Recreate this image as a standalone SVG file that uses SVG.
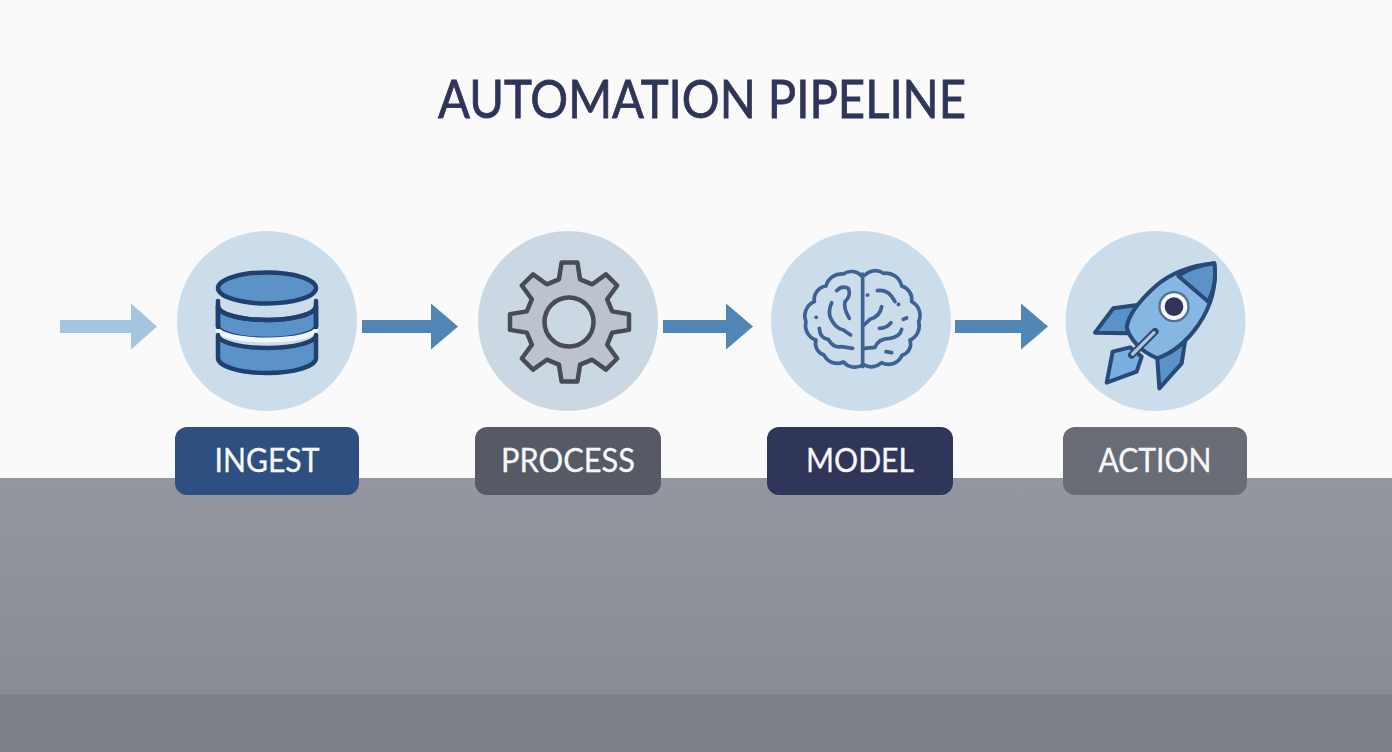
<svg xmlns="http://www.w3.org/2000/svg" width="1392" height="752" viewBox="0 0 1392 752">
<style>
.t{font-family:Lato,"Liberation Sans",sans-serif;font-weight:400;fill:#f7f8fa;stroke:#f7f8fa;stroke-width:.3;font-size:33px;text-anchor:middle}
.h{font-family:Lato,"Liberation Sans",sans-serif;font-weight:400;fill:#2f3558;stroke:#2f3558;stroke-width:.8;font-size:52px;text-anchor:middle}
.c{stroke-width:13;fill:none}
.l{fill:none;stroke:#3f6294;stroke-width:11;stroke-linecap:round;stroke-linejoin:round}
.db{fill:#5b93c8;stroke:#20406f;stroke-width:4.500;stroke-linejoin:round}
.rz{stroke:#274a78;stroke-width:12;stroke-linejoin:round}
</style>
<defs>
<linearGradient id="band" x1="0" y1="0" x2="0" y2="1"><stop offset="0" stop-color="#94979f"/><stop offset="1" stop-color="#898c95"/></linearGradient>
<marker id="hl" markerUnits="userSpaceOnUse" markerWidth="27" markerHeight="48" refX="0" refY="24" orient="auto"><path d="M0 1L26 24L0 47Z" fill="#a3c5df"/></marker>
<marker id="hd" markerUnits="userSpaceOnUse" markerWidth="27" markerHeight="48" refX="0" refY="24" orient="auto"><path d="M0 1L27 24L0 47Z" fill="#4f86b5"/></marker>
</defs>
<rect width="1392" height="752" fill="#fafafa"/>
<rect y="478" width="1392" height="216" fill="url(#band)"/>
<rect y="694" width="1392" height="58" fill="#7d8087"/>
<text id="title" class="h" x="702" y="118" textLength="528" lengthAdjust="spacingAndGlyphs">AUTOMATION PIPELINE</text>
<g id="connectors">
<line class="c" x1="60" y1="326.500" x2="131" y2="326.500" stroke="#a3c5df" marker-end="url(#hl)"/>
<line class="c" x1="362" y1="326.500" x2="431" y2="326.500" stroke="#4f86b5" marker-end="url(#hd)"/>
<line class="c" x1="663" y1="326.500" x2="726" y2="326.500" stroke="#4f86b5" marker-end="url(#hd)"/>
<line class="c" x1="955" y1="326.500" x2="1021" y2="326.500" stroke="#4f86b5" marker-end="url(#hd)"/>
</g>
<g id="ingest">
<circle cx="267" cy="321" r="90" fill="#cbdcea"/>
<path class="db" d="M218 306A49 14 0 0 0 316 306V326A49 13 0 0 1 218 326Z" stroke="none"/>
<path d="M218 301V306A49 14 0 0 0 316 306V301" fill="none" stroke="#20406f" stroke-width="4.500" stroke-linecap="round"/>
<path d="M218 306V327M316 306V327" stroke="#20406f" stroke-width="4.500"/>
<path d="M218 329A49 11 0 0 0 316 329" fill="none" stroke="#f2f7fb" stroke-width="5"/>
<path class="db" d="M218 335A49 13 0 0 0 316 335V358A49 15 0 0 1 218 358Z"/>
<ellipse class="db" cx="267" cy="288" rx="49" ry="15.500"/>
<rect x="175" y="427" width="184" height="68" rx="12" fill="#2d5080"/>
<text class="t" x="267" y="472" textLength="105" lengthAdjust="spacingAndGlyphs">INGEST</text>
</g>
<g id="process">
<circle cx="568" cy="321" r="90" fill="#cbd8e3"/>
<polygon transform="translate(569.500 322)" fill="#bcc3cd" stroke="#474c55" stroke-width="4.500" stroke-linejoin="round" points="42.700,-10.600 59.500,-7.900 59.500,7.900 42.700,10.600 37.700,22.700 47.660,36.490 36.490,47.660 22.700,37.700 10.600,42.700 7.900,59.500 -7.900,59.500 -10.600,42.700 -22.700,37.700 -36.490,47.660 -47.660,36.490 -37.700,22.700 -42.700,10.600 -59.500,7.900 -59.500,-7.900 -42.700,-10.600 -37.700,-22.700 -47.660,-36.490 -36.490,-47.660 -22.700,-37.700 -10.600,-42.700 -7.900,-59.500 7.900,-59.500 10.600,-42.700 22.700,-37.700 36.490,-47.660 47.660,-36.490 37.700,-22.700"/>
<circle cx="569" cy="322" r="24.500" fill="#cbd8e3" stroke="#474c55" stroke-width="4.500"/>
<rect x="475" y="427" width="186" height="68" rx="12" fill="#565a64"/>
<text class="t" x="568" y="472" textLength="134" lengthAdjust="spacingAndGlyphs">PROCESS</text>
</g>
<g id="model">
<circle cx="861" cy="321" r="90" fill="#cbdcea"/>
<g transform="translate(780 250) scale(.3333)">
<path class="l" d="M245 78A42 42 0 0 0 190 72A48 48 0 0 0 138 108A42 42 0 0 0 103 155A46 46 0 0 0 78 215A46 46 0 0 0 108 270A36 36 0 0 0 132 315A44 44 0 0 0 190 336A46 46 0 0 0 248 345"/>
<path class="l" d="M255 75A42 42 0 0 1 310 70A48 48 0 0 1 365 108A42 42 0 0 1 395 155A46 46 0 0 1 416 215A46 46 0 0 1 390 270A36 36 0 0 1 366 316A44 44 0 0 1 305 338A46 46 0 0 1 252 345"/>
<path class="l" d="M248 72V350"/>
<path class="l" d="M170 122Q185 105 205 115Q215 135 195 155Q190 175 208 205M155 158Q145 180 150 200Q165 235 190 240L212 255M118 235Q120 265 145 268Q160 295 185 290L218 295M108 202h1"/>
<path class="l" d="M252 225L270 208Q300 200 305 170M292 122Q325 115 345 155M355 163h1M298 235Q320 235 333 218M370 208L380 204M252 295L285 292Q295 265 330 265Q360 260 365 238M318 305L335 308M262 135h1"/>
</g>
<rect x="767" y="427" width="186" height="68" rx="12" fill="#2f3659"/>
<text class="t" x="860" y="472" textLength="108" lengthAdjust="spacingAndGlyphs">MODEL</text>
</g>
<g id="action">
<circle cx="1155.500" cy="321" r="90" fill="#cbdcea"/>
<g transform="translate(1080 250) scale(.3333)">
<polygon class="rz" fill="#5b93c8" points="45,248 100,175 172,165 145,235 142,250"/>
<polygon class="rz" fill="#5b93c8" points="238,415 232,325 315,275 305,340"/>
<polygon class="rz" fill="#7ab0dd" points="80,398 98,305 150,292 185,320 170,365"/>
<path class="rz" fill="#86b7e2" d="M403 40C320 48 265 75 225 110C175 155 145 195 140 232C150 270 185 305 232 325C275 310 320 275 355 225C395 165 410 110 403 40Z"/>
<path class="rz" fill="#5b93c8" d="M403 40C355 46 320 60 295 78L385 155C400 120 410 90 403 40Z"/>
<circle cx="282" cy="170" r="47" fill="#4f7199"/>
<circle cx="282" cy="170" r="40" fill="#f6f8fb"/>
<circle cx="282" cy="170" r="28" fill="#2f3659"/>
<path d="M155 315L225 245" stroke="#274a78" stroke-width="22" stroke-linecap="round"/>
<path d="M158 312L222 248" stroke="#b8c2cf" stroke-width="10" stroke-linecap="round"/>
</g>
<rect x="1063" y="427" width="184" height="68" rx="12" fill="#696c75"/>
<text class="t" x="1155" y="472" textLength="113" lengthAdjust="spacingAndGlyphs">ACTION</text>
</g>
</svg>
